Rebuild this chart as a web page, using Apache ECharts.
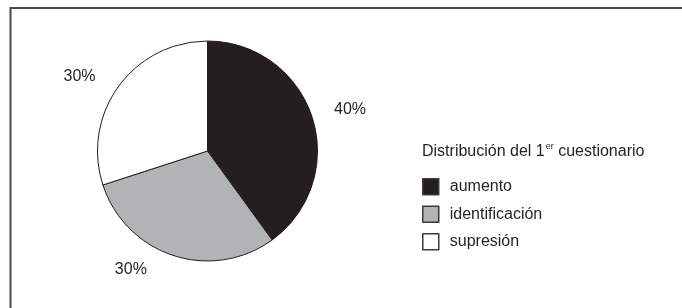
<!DOCTYPE html>
<html>
<head>
<meta charset="utf-8">
<script src="https://cdn.jsdelivr.net/npm/echarts@6/dist/echarts.min.js"></script>
<style>
html,body{margin:0;padding:0;background:#fff;}
#c{width:682px;height:308px;}
</style>
</head>
<body>
<div id="c"></div>
<script>
const categories = ['aumento', 'identificación', 'supresión'];
const values = [40, 30, 30];
const colors = ['#231f20', '#b2b3b5', '#ffffff'];
const labelLengths = [[23, 0], [15, 22], [16, 10]];

const chart = echarts.init(document.getElementById('c'));
const font = 'Liberation Sans, Arial, sans-serif';

chart.setOption({
  animation: false,
  backgroundColor: '#ffffff',
  title: {
    left: 422,
    top: 142,
    padding: 0,
    text: '{a|Distribución del 1}{s|er}{a| cuestionario}',
    textStyle: {
      fontWeight: 'normal',
      rich: {
        a: { fontFamily: font, fontSize: 16, fontWeight: 'normal', color: '#231f20', lineHeight: 18, verticalAlign: 'bottom' },
        s: { fontFamily: font, fontSize: 9, fontWeight: 'normal', color: '#231f20', lineHeight: 18, verticalAlign: 'top', padding: [0, 0, 0, 1] }
      }
    }
  },
  legend: {
    orient: 'vertical',
    left: 422,
    top: 178,
    padding: 0,
    itemWidth: 16,
    itemHeight: 16,
    itemGap: 10,
    icon: 'rect',
    data: categories,
    textStyle: { fontFamily: font, fontSize: 16, color: '#231f20', padding: [0, 0, 0, 6] },
    itemStyle: { borderColor: '#3a3a3a', borderWidth: 1.5 }
  },
  graphic: [
    { type: 'polyline', shape: { points: [[10.5, 308], [10.5, 8], [682, 8]] }, style: { stroke: '#4a4a4a', lineWidth: 2, fill: null } }
  ],
  series: [{
    type: 'pie',
    center: [207.5, 151],
    radius: [0, 110],
    startAngle: 90,
    clockwise: true,
    avoidLabelOverlap: false,
    label: {
      show: true,
      position: 'outside',
      formatter: '{c}%',
      fontFamily: font,
      fontSize: 16,
      color: '#231f20',
      distanceToLabelLine: 0
    },
    labelLine: { show: false },
    itemStyle: { borderColor: '#231f20', borderWidth: 1 },
    emphasis: { disabled: true },
    data: categories.map((name, i) => ({
      name: name,
      value: values[i],
      itemStyle: { color: colors[i] },
      labelLine: { show: false, length: labelLengths[i][0], length2: labelLengths[i][1] }
    }))
  }]
});
</script>
</body>
</html>
